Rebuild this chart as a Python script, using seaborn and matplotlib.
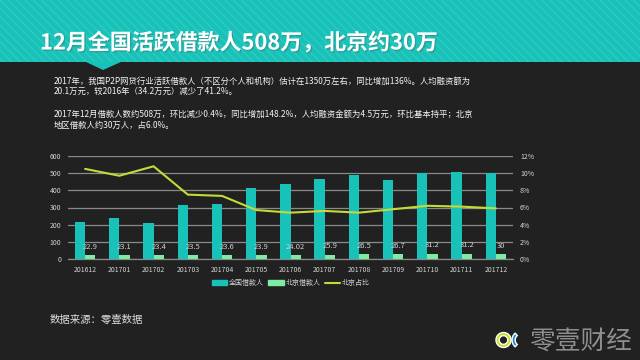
import numpy as np
import pandas as pd
import matplotlib.pyplot as plt
import matplotlib.patches as mpatches
import matplotlib.patheffects as pe
from matplotlib.lines import Line2D
import seaborn as sns

# ── data ─────────────────────────────────────────────────────────────────────
months = ['201612', '201701', '201702', '201703', '201704', '201705', '201706',
          '201707', '201708', '201709', '201710', '201711', '201712']
national = [215, 237, 212, 313, 320, 414, 439, 464, 489, 458, 499, 507, 503]
beijing = [22.9, 23.1, 23.4, 23.5, 23.6, 23.9, 24.02, 25.9, 26.5, 26.7, 31.2, 31.2, 30]
beijing_labels = ['22.9', '23.1', '23.4', '23.5', '23.6', '23.9', '24.02',
                  '25.9', '26.5', '26.7', '31.2', '31.2', '30']
ratio = [10.5, 9.7, 10.8, 7.5, 7.35, 5.7, 5.4, 5.6, 5.4, 5.8, 6.2, 6.1, 5.9]
series_names = ['全国借款人', '北京借款人', '北京占比']
left_ticks = [0, 100, 200, 300, 400, 500, 600]
right_ticks = [0, 2, 4, 6, 8, 10, 12]

title = '12月全国活跃借款人508万，北京约30万'
para = ['2017年，我国P2P网贷行业活跃借款人（不区分个人和机构）估计在1350万左右，同比增加136%。人均融资额为',
        '20.1万元，较2016年（34.2万元）减少了41.2%。',
        '2017年12月借款人数约508万，环比减少0.4%，同比增加148.2%，人均融资金额为4.5万元，环比基本持平；北京',
        '地区借款人约30万人，占6.0%。']
source = '数据来源：零壹数据'
brand = '零壹财经'

# ── style ────────────────────────────────────────────────────────────────────
bg = '#212121'
teal = '#19C2B8'
green = '#7DEBA2'
lime = '#C6DA36'
grid_c = '#8a8a8a'
tick_c = '#d2d2d2'

sns.set_style('dark', {'axes.facecolor': bg, 'figure.facecolor': bg})
plt.rcParams['font.family'] = ['Noto Sans CJK SC', 'DejaVu Sans']
plt.rcParams['hatch.linewidth'] = 1.0

df = pd.DataFrame({
    'month': months * 2,
    'value': national + beijing,
    'series': [series_names[0]] * len(months) + [series_names[1]] * len(months),
})

fig = plt.figure(figsize=(6.4, 3.6), dpi=100)
fig.patch.set_facecolor(bg)

# overlay in pixel coords for banner / logo
ov = fig.add_axes([0, 0, 1, 1], zorder=0)
ov.set_xlim(0, 640)
ov.set_ylim(360, 0)
ov.axis('off')
ov.add_patch(mpatches.Rectangle((0, 0), 640, 62, facecolor=teal, edgecolor='#2ccbc1',
                                hatch='\\\\\\\\', linewidth=0))
ov.add_patch(mpatches.Polygon([(85, 61.5), (122, 61.5), (103, 70)], closed=True,
                              facecolor=teal, edgecolor='none'))
# logo icon
ov.add_patch(mpatches.Wedge((503.5, 340), 7.5, 0, 360, width=3.2, facecolor='#C8DC1E'))
ov.add_patch(mpatches.Wedge((521, 340), 9, 130, 230, width=3.2, facecolor='#1E8BE0'))

fig.text(40 / 640, 1 - 43 / 360, title, fontsize=15.8, fontweight='bold', color='white',
         va='center', path_effects=[pe.withSimplePatchShadow(offset=(1, -1), alpha=0.3)])
for txt, y in zip(para, [81, 91.5, 114, 125]):
    fig.text(54 / 640, 1 - y / 360, txt, fontsize=6, color='#f4f4f4', va='center',
             fontweight='medium')
fig.text(50 / 640, 1 - 320 / 360, source, fontsize=7.5, color='#dddddd', va='center')
fig.text(529 / 640, 1 - 342 / 360, brand, fontsize=18.5, color='#8e8e8e', va='center',
         fontweight='light')

# ── chart ────────────────────────────────────────────────────────────────────
ax = fig.add_axes([68 / 640, 1 - 259 / 360, 445 / 640, 103 / 360], zorder=2)
ax.set_facecolor('none')
sns.barplot(data=df, x='month', y='value', hue='series', palette=[teal, green],
            width=0.6, saturation=1, ax=ax, legend=False, zorder=3, linewidth=0)
ax.bar_label(ax.containers[1], labels=beijing_labels, padding=3, fontsize=5.5,
             color='#cfcfcf', zorder=10)

ax.set_ylim(0, 600)
ax.set_yticks(left_ticks)
ax.set_xlim(-0.5, len(months) - 0.5)
ax.set_xlabel('')
ax.set_ylabel('')
ax.grid(axis='y', color=grid_c, lw=0.9)
ax.grid(axis='x', visible=False)
ax.set_axisbelow(True)
for s in ['top', 'right', 'left']:
    ax.spines[s].set_visible(False)
ax.spines['bottom'].set_color(grid_c)
ax.spines['bottom'].set_linewidth(0.9)
ax.set_xticks(np.arange(-0.5, len(months)), minor=True)
ax.tick_params(axis='x', which='major', length=0, labelsize=5, labelcolor=tick_c, pad=5)
ax.tick_params(axis='x', which='minor', length=3, color=grid_c, width=0.8, direction='out')
ax.tick_params(axis='y', length=0, labelsize=5, labelcolor=tick_c, pad=5)

ax2 = ax.twinx()
sns.lineplot(x=np.arange(len(months)), y=ratio, ax=ax2, color=lime, lw=1.5, zorder=5)
ax2.set_ylim(0, 12)
ax2.set_yticks(right_ticks)
ax2.set_yticklabels([f'{v}%' for v in right_ticks])
ax2.tick_params(axis='y', length=0, labelsize=5, labelcolor=tick_c, pad=5)
ax2.grid(False)
for s in ax2.spines.values():
    s.set_visible(False)
ax.set_xlim(-0.5, len(months) - 0.5)

handles = [mpatches.Patch(color=teal), mpatches.Patch(color=green),
           Line2D([0], [0], color=lime, lw=1.5)]
fig.legend(handles, series_names, loc='center', bbox_to_anchor=(291 / 640, 1 - 283 / 360),
           ncol=3, frameon=False, fontsize=5, labelcolor=tick_c, handlelength=2.2,
           handleheight=0.7, columnspacing=0.6, handletextpad=0.3)

fig.savefig('out.png', dpi=100, facecolor=bg)
